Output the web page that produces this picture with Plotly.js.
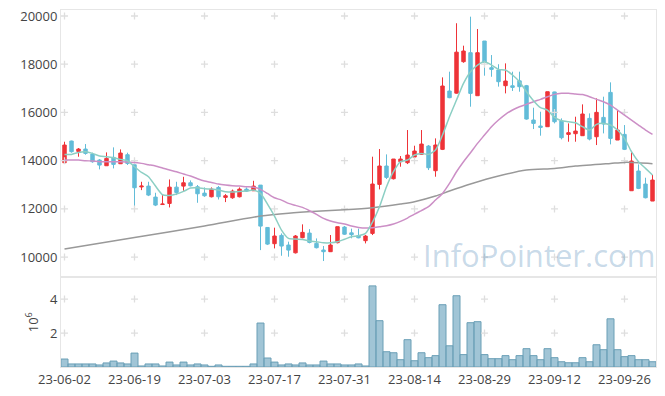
<!DOCTYPE html>
<html>
<head>
<meta charset="utf-8">
<script src="https://cdn.plot.ly/plotly-3.0.1.min.js"></script>
<style>html,body{margin:0;padding:0;background:#fff;}#chart{width:665px;height:396px;}</style>
</head>
<body>
<div id="chart"></div>
<script>
const dates = [
 '23-06-02','23-06-05','23-06-07','23-06-08','23-06-09','23-06-12','23-06-13','23-06-14','23-06-15','23-06-16',
 '23-06-19','23-06-20','23-06-21','23-06-22','23-06-23','23-06-26','23-06-27','23-06-28','23-06-29','23-06-30',
 '23-07-03','23-07-04','23-07-05','23-07-06','23-07-07','23-07-10','23-07-11','23-07-12','23-07-13','23-07-14',
 '23-07-17','23-07-18','23-07-19','23-07-20','23-07-21','23-07-24','23-07-25','23-07-26','23-07-27','23-07-28',
 '23-07-31','23-08-01','23-08-02','23-08-03','23-08-04','23-08-07','23-08-08','23-08-09','23-08-10','23-08-11',
 '23-08-14','23-08-16','23-08-17','23-08-18','23-08-21','23-08-22','23-08-23','23-08-24','23-08-25','23-08-28',
 '23-08-29','23-08-30','23-08-31','23-09-01','23-09-04','23-09-05','23-09-06','23-09-07','23-09-08','23-09-11',
 '23-09-12','23-09-13','23-09-14','23-09-15','23-09-18','23-09-19','23-09-20','23-09-21','23-09-22','23-09-25',
 '23-09-26','23-09-27','23-10-04','23-10-05','23-10-06'
];
const openP = [13914,14813,14384,14481,14273,14025,13789,14136,13872,14246,
 13830,12910,12945,12489,12180,12226,12902,12944,13082,12917,
 12654,12503,12889,12475,12461,12503,12820,12751,12986,11229,
 10556,10900,10500,10178,10805,10996,10569,10293,10224,10598,
 11245,11005,10890,10680,10983,13016,13777,13250,13956,13915,
 14150,14261,14606,13583,14468,16888,16800,18105,18478,16694,
 18962,17856,17759,17109,17105,17310,17109,15685,15436,15408,
 16850,15643,15090,15118,15035,15754,14993,15795,16832,14855,
 15090,12753,13570,13030,12324];
const highP = [14785,14830,14523,14689,14330,14066,14343,14551,14467,14330,
 13860,13124,13124,12668,12583,13220,13124,13330,13180,12990,
 12890,12890,12950,12613,12800,12890,12890,13165,12986,11240,
 11220,10982,10640,10915,11358,11160,10775,10460,10915,11262,
 11290,11180,11180,10920,14164,14482,14260,14067,14191,15270,
 14620,15270,14650,14924,17455,17690,19700,18769,19972,19460,
 18962,18380,18000,18035,17690,17690,17140,16196,16030,16860,
 16860,15754,15546,15823,16335,15961,16584,16653,17248,16100,
 15477,14343,13845,13292,13403];
const lowP = [13887,14330,14163,14246,13914,13638,13789,13678,13860,13820,
 12060,12778,12530,12115,12170,12060,12572,12751,12930,12253,
 12500,12475,12390,12281,12420,12475,12700,12751,10290,10500,
 10360,10056,10015,10150,10780,10570,10360,9837,10210,10570,
 10920,10780,10780,10568,10914,12808,13240,13220,13749,13859,
 14120,14240,13610,13334,14440,16590,16780,18060,16238,16694,
 17524,17480,17070,16790,16890,16860,15700,15311,15035,15408,
 15546,14883,14786,14786,15035,14841,14647,15131,14675,14855,
 14440,12753,12820,12435,12324];
const closeP = [14647,14371,14481,14301,13955,13817,14094,13845,14315,13887,
 12876,12945,12572,12157,12200,12902,12681,13082,12958,12627,
 12544,12820,12503,12544,12737,12820,12737,12944,11285,10538,
 10874,10458,10290,10874,11026,10610,10389,10224,10500,11262,
 10950,10930,10800,10872,13030,13777,13306,14067,14067,14233,
 14399,14689,13707,14648,17096,16612,18500,18547,16790,18478,
 18077,17787,17275,17303,17040,17068,15726,15546,15380,16860,
 15615,14952,15160,15228,15934,14896,16003,15519,14924,15270,
 14468,13984,12850,12462,13195];
const volumeM = [0.47,0.18,0.18,0.18,0.18,0.12,0.24,0.35,0.24,0.18,
 0.82,0.06,0.18,0.18,0.06,0.29,0.12,0.29,0.12,0.18,
 0.12,0.04,0.12,0.04,0.04,0.04,0.04,0.18,2.59,0.53,
 0.29,0.12,0.18,0.12,0.24,0.12,0.12,0.35,0.18,0.18,
 0.12,0.12,0.18,0.06,4.78,2.73,0.90,0.84,0.43,1.61,
 0.37,0.84,0.55,0.67,3.67,1.25,4.20,0.73,2.61,2.67,
 0.73,0.49,0.49,0.67,0.43,0.67,1.08,0.67,0.43,1.08,
 0.55,0.31,0.25,0.25,0.55,0.31,1.31,1.02,2.84,1.02,
 0.61,0.67,0.43,0.43,0.31];
const ma5 = [14260,14260,14343,14370,14301,14190,14163,14122,14053,13997,
 13748,13513,13333,12946,12587,12559,12614,12725,12863,12877,
 12836,12822,12780,12711,12697,12725,12739,12780,12642,12200,
 11700,11120,10775,10747,10733,10664,10637,10595,10595,10637,
 10740,10844,10886,10983,11450,12089,12919,13541,13956,14025,
 14233,14302,14260,14440,15062,15823,16515,17206,17690,17966,
 18105,17966,17787,17759,17552,17275,16860,16487,16196,16100,
 15795,15657,15615,15574,15408,15270,15505,15546,15477,15270,
 14924,14371,13956,13680,13403];
const ma20 = [14025,14025,14025,13997,13985,13956,13956,13956,13956,13942,
 13928,13887,13831,13776,13693,13610,13541,13444,13361,13250,
 13154,13098,13029,12988,12960,12946,12918,12900,12810,12640,
 12460,12365,12227,12144,12061,11923,11770,11604,11494,11425,
 11370,11287,11231,11203,11217,11259,11300,11370,11480,11620,
 11785,11930,12089,12365,12642,13057,13541,13956,14329,14717,
 15062,15408,15685,15920,16100,16238,16335,16445,16542,16653,
 16750,16791,16791,16763,16740,16653,16542,16445,16307,16100,
 15892,15685,15477,15270,15090];
const ma120Dates = ['23-06-02','23-06-19','23-07-03','23-07-13','23-07-19','23-07-25','23-07-31','23-08-04',
 '23-08-10','23-08-14','23-08-18','23-08-22','23-08-25','23-08-31','23-09-06','23-09-12','23-09-15',
 '23-09-22','23-09-26','23-10-04','23-10-06'];
const ma120 = [10333,10812,11290,11700,11820,11900,11960,12047,
 12200,12296,12531,12739,13029,13361,13610,13679,13776,
 13887,13928,13914,13873];
const xTicks = ['23-06-02','23-06-19','23-07-03','23-07-17','23-07-31','23-08-14','23-08-29','23-09-12','23-09-26'];
const priceTicks = [10000,12000,14000,16000,18000,20000];
const volTicks = [2,4];

// grid crosses at tick intersections
const cx = [], cy = [], cx2 = [], cy2 = [];
xTicks.forEach(d => { priceTicks.forEach(v => { cx.push(d); cy.push(v); }); volTicks.forEach(v => { cx2.push(d); cy2.push(v); }); });

const crossMarker = {symbol:'cross-thin', size:5, line:{color:'#dedede', width:1.3}, color:'#dedede'};
const traces = [
 {type:'scatter', mode:'markers', x:cx, y:cy, marker:crossMarker, xaxis:'x', yaxis:'y', hoverinfo:'skip'},
 {type:'scatter', mode:'markers', x:cx2, y:cy2, marker:crossMarker, xaxis:'x', yaxis:'y2', hoverinfo:'skip'},
 {type:'scatter', mode:'lines', x:ma120Dates, y:ma120, line:{color:'#999999', width:1.5, shape:'spline', smoothing:0.8}, xaxis:'x', yaxis:'y'},
 {type:'scatter', mode:'lines', x:dates, y:ma20, line:{color:'#cc8fc6', width:1.5, shape:'spline', smoothing:0.6}, xaxis:'x', yaxis:'y'},
 {type:'scatter', mode:'lines', x:dates, y:ma5, line:{color:'#8ccfc4', width:1.5, shape:'spline', smoothing:0.6}, xaxis:'x', yaxis:'y'},
 {type:'candlestick', x:dates, open:openP, high:highP, low:lowP, close:closeP, xaxis:'x', yaxis:'y',
  increasing:{line:{color:'#ee3338', width:1}, fillcolor:'#ee3338'},
  decreasing:{line:{color:'#62bcd8', width:1}, fillcolor:'#62bcd8'}, whiskerwidth:0},
 {type:'bar', x:dates, y:volumeM, xaxis:'x', yaxis:'y2',
  marker:{color:'rgba(125,175,198,0.72)', line:{color:'#6a9fb6', width:1}}}
];

const axisFont = {family:'Open Sans, Noto Sans, sans-serif', size:13, color:'#444'};
const layout = {
 width:665, height:396,
 margin:{l:61, r:9, t:10, b:29},
 paper_bgcolor:'#fff', plot_bgcolor:'#fff',
 showlegend:false, bargap:0,
 font:axisFont,
 xaxis:{type:'category', categoryorder:'array', categoryarray:dates, anchor:'y2', range:[-0.5, 84.5],
  tickmode:'array', tickvals:xTicks, ticktext:xTicks,
  showgrid:false, zeroline:false, showline:true, linecolor:'#e6e6e6', linewidth:1, mirror:'all',
  rangeslider:{visible:false}, tickfont:axisFont, ticks:''},
 yaxis:{domain:[0.251,1], range:[9158,20249], tickmode:'array', tickvals:priceTicks, tickformat:'d',
  showgrid:false, zeroline:false, showline:true, linecolor:'#e6e6e6', mirror:true, tickfont:axisFont, ticks:''},
 yaxis2:{domain:[0,0.251], range:[0,5.28], tickmode:'array', tickvals:volTicks,
  showgrid:false, zeroline:false, showline:true, linecolor:'#e6e6e6', mirror:true, tickfont:axisFont, ticks:'',
  title:{text:'10<sup>6</sup>', font:axisFont, standoff:8}},
 annotations:[{text:'InfoPointer.com', xref:'paper', yref:'paper', x:0.803, y:0.313, showarrow:false,
  font:{family:'Open Sans, sans-serif', size:31, color:'rgba(70,130,180,0.3)'}, xanchor:'center', yanchor:'middle'}]
};
Plotly.newPlot('chart', traces, layout, {displayModeBar:false, staticPlot:true});
</script>
</body>
</html>
